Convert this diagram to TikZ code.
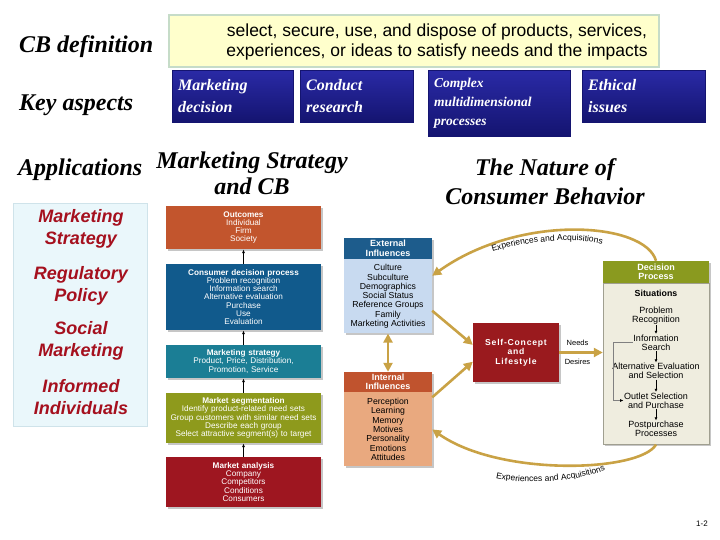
\documentclass[tikz,border=0pt]{standalone}
\usepackage{fontspec}
\setmainfont{Liberation Serif}
\setsansfont{Liberation Sans}
\newfontfamily\spacedsans[LetterSpace=9]{Liberation Sans}
\usetikzlibrary{shapes,arrows.meta,positioning,shadows,decorations.text}
\definecolor{navytop}{HTML}{2A2AA6}
\definecolor{navybot}{HTML}{141470}
\definecolor{defline}{HTML}{C6DCC8}
\definecolor{deffill}{HTML}{FFFFCC}
\definecolor{paneline}{HTML}{CFE3EA}
\definecolor{panefill}{HTML}{EAF7FB}
\definecolor{apptext}{HTML}{A5101E}
\definecolor{outcol}{HTML}{C2552D}
\definecolor{cdpcol}{HTML}{115A8C}
\definecolor{stratcol}{HTML}{1B7E95}
\definecolor{segcol}{HTML}{8E9A1C}
\definecolor{anacol}{HTML}{9E1620}
\definecolor{exthd}{HTML}{1D5C8C}
\definecolor{extbd}{HTML}{C8DAF0}
\definecolor{inthd}{HTML}{C0532E}
\definecolor{intbd}{HTML}{E9A97F}
\definecolor{selfcol}{HTML}{9A1A1E}
\definecolor{dechd}{HTML}{8A9A1F}
\definecolor{decbd}{HTML}{EFEDDF}
\definecolor{decline}{HTML}{A09F90}
\definecolor{gold}{HTML}{C9A245}
\tikzstyle{heading} = [font=\bfseries\itshape\fontsize{24}{26}\selectfont,inner sep=0,align=center]
\tikzstyle{defbox} = [draw=defline,line width=2.5pt,fill=deffill,minimum width=490pt,minimum height=52pt]
\tikzstyle{deftext} = [align=center,inner sep=0,font=\sffamily\fontsize{17.5}{20}\selectfont]
\tikzstyle{aspect} = [rectangle,draw=navybot,top color=navytop,bottom color=navybot,text=white,anchor=north west,align=left,inner xsep=6pt,inner ysep=0,font=\bfseries\itshape\fontsize{16}{22}\selectfont]
\tikzstyle{apptxt} = [text=apptext,align=center,font=\sffamily\bfseries\itshape\fontsize{18}{22}\selectfont]
\tikzstyle{stackbox} = [rectangle,text=white,minimum width=155pt,text width=153pt,align=center,inner sep=0,drop shadow={opacity=0.45,shadow xshift=2pt,shadow yshift=-2pt},font=\sffamily\fontsize{8.2}{8.3}\selectfont]
\tikzstyle{hdbox} = [rectangle,text=white,minimum width=88pt,align=center,inner sep=0,drop shadow={opacity=0.45,shadow xshift=2pt,shadow yshift=-2pt},font=\sffamily\bfseries\fontsize{9}{9.5}\selectfont]
\tikzstyle{bodybox} = [rectangle,minimum width=88pt,align=center,inner sep=0,drop shadow={opacity=0.45,shadow xshift=2pt,shadow yshift=-2pt},font=\sffamily\fontsize{8.7}{9.3}\selectfont]
\tikzstyle{stepnode} = [align=center,inner sep=0.5pt,font=\sffamily\fontsize{9}{9.3}\selectfont]
\tikzstyle{uparrow} = [-{Latex[length=4pt,width=3pt]},line width=0.8pt]
\tikzstyle{steparrow} = [-{Latex[length=3pt,width=3pt]},line width=0.8pt]
\tikzstyle{goldarrow} = [-{Triangle[length=9pt,width=9pt]},draw=gold,line width=2.6pt]
\tikzstyle{curvetext} = [decorate,decoration={text along path,text align=center,text color=black}]
\def \curvefont {\sffamily\fontsize{8.5}{9}\selectfont}

\begin{document}
\begin{tikzpicture}[x=1pt,y=-1pt]
      \useasboundingbox (0,0) rectangle (720,540);
      \node[heading,anchor=west] (cbdef) at (19,47) {CB definition};
      \node[defbox] (def) at (414,41) {};
      \node[deftext] (deftxt) at (437,42) {select, secure, use, and dispose of products, services,\\experiences, or ideas to satisfy needs and the impacts};
      \node[heading,anchor=west] (keyasp) at (19,105) {Key aspects};
      \node[aspect,minimum width=121pt,minimum height=52pt,text width=109pt] (mdec) at (172,70) {Marketing\\decision};
      \node[aspect,minimum width=113pt,minimum height=52pt,text width=101pt] (cres) at (300,70) {Conduct\\research};
      \node[aspect,minimum width=142pt,minimum height=66pt,text width=130pt,font=\bfseries\itshape\fontsize{13.5}{19}\selectfont] (cmp) at (428,70) {Complex\\multidimensional\\processes};
      \node[aspect,minimum width=123pt,minimum height=52pt,text width=111pt] (eth) at (582,70) {Ethical\\issues};
      \node[heading,anchor=west] (appl) at (18,170) {Applications};
      \node[heading] (mscb) at (252,173) {Marketing Strategy\\and CB};
      \node[heading,font=\bfseries\itshape\fontsize{24}{29}\selectfont] (nature) at (545,182) {The Nature of\\Consumer Behavior};
      \node[draw=paneline,line width=1pt,fill=panefill,minimum width=134pt,minimum height=222pt] (pane) at (80,315) {};
      \node[apptxt] (app1) at (81,229) {Marketing\\Strategy};
      \node[apptxt] (app2) at (81,286) {Regulatory\\Policy};
      \node[apptxt] (app3) at (81,341) {Social\\Marketing};
      \node[apptxt] (app4) at (81,397.5) {Informed\\Individuals};
      \node[stackbox,fill=outcol,minimum height=43pt] (outc) at (243.5,227.5) {\textbf{Outcomes}\\Individual\\Firm\\Society};
      \node[stackbox,fill=cdpcol,minimum height=66pt] (cdp) at (243.5,297) {\textbf{Consumer decision process}\\Problem recognition\\Information search\\Alternative evaluation\\Purchase\\Use\\Evaluation};
      \node[stackbox,fill=stratcol,minimum height=33pt] (strat) at (243.5,361.5) {\textbf{Marketing strategy}\\Product, Price, Distribution,\\Promotion, Service};
      \node[stackbox,fill=segcol,minimum height=50pt] (seg) at (243.5,418) {\textbf{Market segmentation}\\Identify product-related need sets\\Group customers with similar need sets\\Describe each group\\Select attractive segment(s) to target};
      \node[stackbox,fill=anacol,minimum height=50pt] (ana) at (243.5,482) {\textbf{Market analysis}\\Company\\Competitors\\Conditions\\Consumers};
      \draw[uparrow] (cdp.north) -- (outc.south);
      \draw[uparrow] (strat.north) -- (cdp.south);
      \draw[uparrow] (seg.north) -- (strat.south);
      \draw[uparrow] (ana.north) -- (seg.south);
      \node[hdbox,fill=exthd,minimum height=21pt] (exth) at (388,248.5) {External\\Influences};
      \node[bodybox,fill=extbd,minimum height=74pt,below=0pt of exth] (extb) {Culture\\Subculture\\Demographics\\Social Status\\Reference Groups\\Family\\Marketing Activities};
      \node[hdbox,fill=inthd,minimum height=20pt] (inth) at (388,382) {Internal\\Influences};
      \node[bodybox,fill=intbd,minimum height=74pt,below=0pt of inth] (intb) {Perception\\Learning\\Memory\\Motives\\Personality\\Emotions\\Attitudes};
      \node[rectangle,fill=selfcol,text=white,minimum width=86pt,minimum height=59pt,align=center,drop shadow={opacity=0.45,shadow xshift=2pt,shadow yshift=-2pt},font=\spacedsans\bfseries\fontsize{8.6}{9.5}\selectfont] (self) at (516,352.5) {Self-Concept\\and\\Lifestyle};
      \node[hdbox,fill=dechd,minimum width=106pt,minimum height=22pt] (dech) at (656,272) {Decision\\Process};
      \node[bodybox,fill=decbd,draw=decline,minimum width=106pt,minimum height=161pt,below=0pt of dech] (decb) {};
      \node[stepnode,font=\sffamily\bfseries\fontsize{8.8}{9.5}\selectfont] (sit) at (656,293) {Situations};
      \node[stepnode] (prob) at (656,315.5) {Problem\\Recognition};
      \node[stepnode] (info) at (656,342.5) {Information\\Search};
      \node[stepnode] (alt) at (656,371) {Alternative Evaluation\\and Selection};
      \node[stepnode] (outl) at (656,400.5) {Outlet Selection\\and Purchase};
      \node[stepnode] (post) at (656,429) {Postpurchase\\Processes};
      \draw[steparrow] (prob) -- (info);
      \draw[steparrow] (info) -- (alt);
      \draw[steparrow] (alt) -- (outl);
      \draw[steparrow] (outl) -- (post);
      \draw[draw=gray,line width=0.8pt,-{Latex[length=3.5pt,width=3pt,color=black]}] (info.west) -- ++(-19,0) |- (outl.west);
      \draw[goldarrow] (extb.-18) -- (self.170);
      \draw[goldarrow] (intb.36) -- (self.192);
      \draw[goldarrow,{Triangle[length=9pt,width=9pt]}-{Triangle[length=9pt,width=9pt]}] (extb.south) -- (inth.north);
      \draw[goldarrow] (self.east) -- (decb.west |- self.east) node[pos=0.42,above=2pt,font=\sffamily\fontsize{7.5}{9}\selectfont] (needs) {Needs} node[pos=0.42,below=2pt,font=\sffamily\fontsize{7.5}{9}\selectfont] (desires) {Desires};
      \draw[goldarrow] (dech.north) .. controls (645,222) and (520,213) .. (extb.25);
      \draw[goldarrow] (decb.south) .. controls (640,472) and (500,477) .. (intb.east);
      \path[curvetext,decoration={text={|\curvefont|Experiences and Acquisitions}}] (486,254) .. controls (520,241) and (578,236) .. (609,246);
      \path[curvetext,decoration={text={|\curvefont|Experiences and Acquisitions}}] (491,477) .. controls (525,486) and (580,482) .. (610,468);
      \node[font=\sffamily\fontsize{8}{9}\selectfont] (pnum) at (702,524) {1-2};
\end{tikzpicture}
\end{document}
